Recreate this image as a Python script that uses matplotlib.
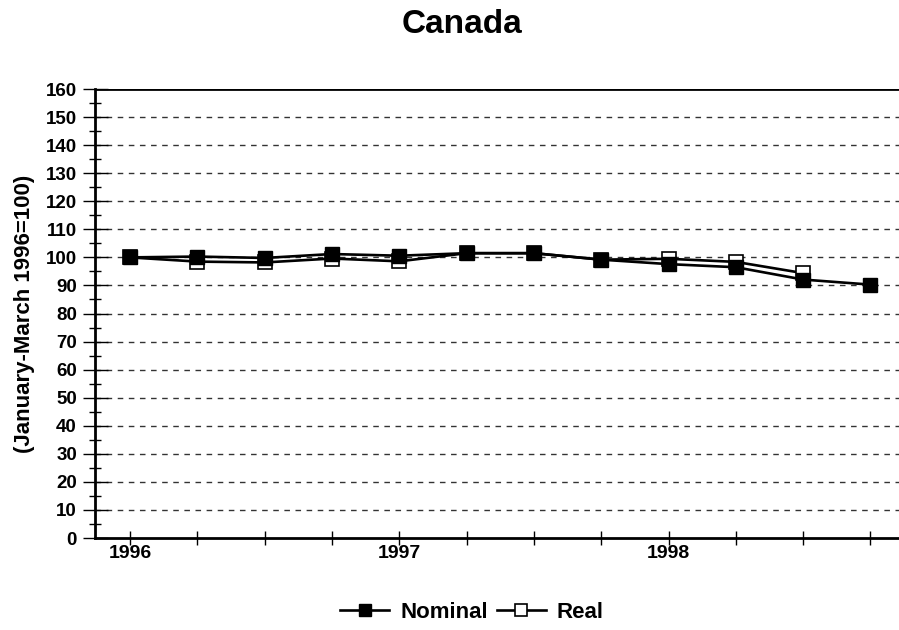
import numpy as np
import matplotlib.pyplot as plt
from matplotlib.ticker import MultipleLocator

plt.rcParams['font.family'] = ['Liberation Sans', 'DejaVu Sans']
plt.rcParams['font.weight'] = 'bold'

# quarterly index, January-March 1996 = 100
quarters = list(range(12))
nominal = [100.0, 100.3, 99.8, 101.2, 100.6, 101.5, 101.5, 99.2, 97.6, 96.5, 92.1, 90.3]
real = [100.0, 98.5, 98.2, 99.6, 98.6, 101.5, 101.5, 99.2, 99.5, 98.4, 94.4]
year_pos = [0, 4, 8]
year_labels = ['1996', '1997', '1998']

fig = plt.figure(figsize=(8.99, 6.3), dpi=100)
ax = fig.add_axes([0.1057, 0.146, 0.894, 0.7127])

ax.plot(quarters[:len(real)], real, '-s', color='black', lw=1.9,
        markersize=10, markerfacecolor='white', markeredgecolor='black',
        markeredgewidth=1.2, label='Real', zorder=3)
ax.plot(quarters, nominal, '-s', color='black', lw=1.9,
        markersize=10, markerfacecolor='black', label='Nominal', zorder=4)

ax.set_ylim(0, 160)
ax.set_xlim(-0.52, 11.42)

# dashed gridlines every 10
for v in range(10, 160, 10):
    ax.axhline(v, color='#333333', lw=1, ls=(0, (4, 4)), zorder=1)
ax.axhline(160, color='black', lw=2, zorder=2)

ax.yaxis.set_major_locator(MultipleLocator(10))
ax.yaxis.set_minor_locator(MultipleLocator(5))
ax.tick_params(axis='y', which='major', direction='inout', length=18,
               width=1, labelsize=13.5, pad=4)
ax.tick_params(axis='y', which='minor', direction='inout', length=9, width=1)

ax.set_xticks(quarters)
ax.set_xticklabels(['' for q in quarters])
ax.tick_params(axis='x', direction='inout', length=10, width=1)
for p, lab in zip(year_pos, year_labels):
    ax.text(p, -2.5, lab, ha='center', va='top', fontsize=14,
            fontweight='bold', transform=ax.transData)

for s in ['top', 'right']:
    ax.spines[s].set_visible(False)
ax.spines['left'].set_linewidth(2)
ax.spines['bottom'].set_linewidth(2)

ax.set_ylabel('(January-March 1996=100)', fontsize=16, fontweight='bold',
              labelpad=8)
fig.suptitle('Canada', fontsize=24, fontweight='bold', x=0.514, y=0.985)

handles, labels = ax.get_legend_handles_labels()
fig.legend(handles[::-1], labels[::-1], loc='center', ncol=2,
           bbox_to_anchor=(0.525, 0.028), frameon=False, fontsize=16,
           handlelength=2.2, handletextpad=0.5, columnspacing=0.4,
           markerscale=0.85)

plt.savefig('out.png', dpi=100)
